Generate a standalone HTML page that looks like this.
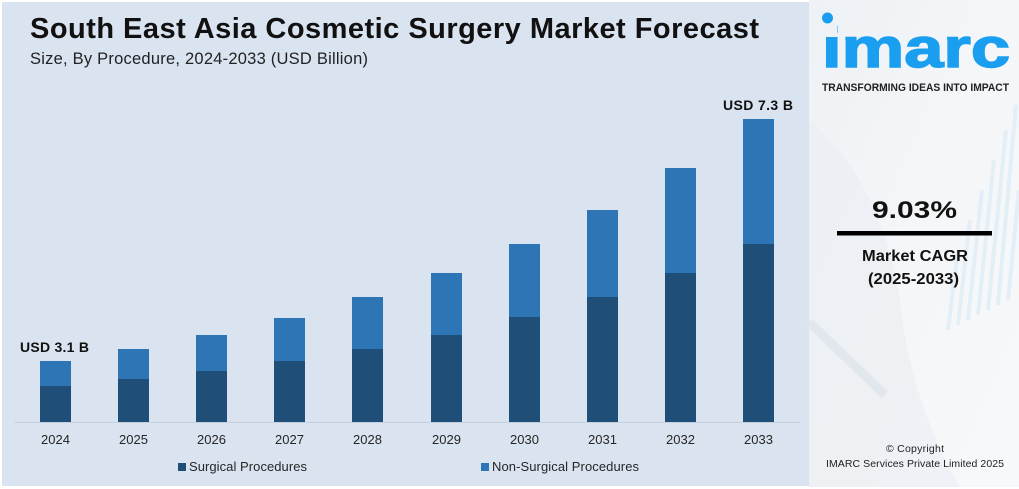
<!DOCTYPE html>
<html>
<head>
<meta charset="utf-8">
<style>
  html, body { margin: 0; padding: 0; background: #ffffff; }
  body { width: 1019px; height: 489px; overflow: hidden; }
  svg { display: block; font-family: "Liberation Sans", Arial, sans-serif; }
</style>
</head>
<body>
<svg width="1019" height="489" viewBox="0 0 1019 489" xmlns="http://www.w3.org/2000/svg">
  <defs>
    <linearGradient id="rp" x1="0" y1="0" x2="1" y2="1">
      <stop offset="0" stop-color="#eef1f5"/>
      <stop offset="0.5" stop-color="#f4f6f8"/>
      <stop offset="1" stop-color="#f7f8fa"/>
    </linearGradient>
  </defs>

  <!-- background -->
  <rect x="0" y="0" width="1019" height="489" fill="#ffffff"/>
  <rect x="2" y="2" width="807" height="484" fill="#dae3f0"/>

  <!-- right panel -->
  <rect x="809" y="0" width="210" height="487" fill="url(#rp)"/>
  <!-- faint background decorations -->
  <path d="M809 120 Q 880 180 900 300 Q 910 400 960 487 L 809 487 Z" fill="#e9edf1" opacity="0.6"/>
  <line x1="809" y1="322" x2="885" y2="395" stroke="#e2e7ed" stroke-width="9"/>
  <g stroke="#dcecf6" stroke-width="4" opacity="0.7">
    <line x1="948" y1="330" x2="958" y2="250"/>
    <line x1="958" y1="325" x2="970" y2="220"/>
    <line x1="968" y1="320" x2="982" y2="190"/>
    <line x1="978" y1="315" x2="994" y2="160"/>
    <line x1="988" y1="310" x2="1006" y2="130"/>
    <line x1="998" y1="305" x2="1016" y2="105"/>
    <line x1="1008" y1="300" x2="1019" y2="190"/>
  </g>

  <!-- title -->
  <text x="30" y="38" font-size="29" font-weight="bold" fill="#111111" textLength="729">South East Asia Cosmetic Surgery Market Forecast</text>
  <text x="30" y="64" font-size="16.5" fill="#222222" textLength="338">Size, By Procedure, 2024-2033 (USD Billion)</text>

  <!-- axis line -->
  <line x1="15" y1="422.5" x2="800" y2="422.5" stroke="#c6d0dd" stroke-width="1"/>

  <!-- bars: dark = surgical, light = non-surgical -->
  <g>
    <rect x="40" y="361" width="31" height="25" fill="#2e75b6"/>
    <rect x="40" y="386" width="31" height="36" fill="#1f4e79"/>

    <rect x="118" y="349" width="31" height="30" fill="#2e75b6"/>
    <rect x="118" y="379" width="31" height="43" fill="#1f4e79"/>

    <rect x="196" y="335" width="31" height="36" fill="#2e75b6"/>
    <rect x="196" y="371" width="31" height="51" fill="#1f4e79"/>

    <rect x="274" y="318" width="31" height="43" fill="#2e75b6"/>
    <rect x="274" y="361" width="31" height="61" fill="#1f4e79"/>

    <rect x="352" y="297" width="31" height="52" fill="#2e75b6"/>
    <rect x="352" y="349" width="31" height="73" fill="#1f4e79"/>

    <rect x="431" y="273" width="31" height="62" fill="#2e75b6"/>
    <rect x="431" y="335" width="31" height="87" fill="#1f4e79"/>

    <rect x="509" y="244" width="31" height="73" fill="#2e75b6"/>
    <rect x="509" y="317" width="31" height="105" fill="#1f4e79"/>

    <rect x="587" y="210" width="31" height="87" fill="#2e75b6"/>
    <rect x="587" y="297" width="31" height="125" fill="#1f4e79"/>

    <rect x="665" y="168" width="31" height="105" fill="#2e75b6"/>
    <rect x="665" y="273" width="31" height="149" fill="#1f4e79"/>

    <rect x="743" y="119" width="31" height="125" fill="#2e75b6"/>
    <rect x="743" y="244" width="31" height="178" fill="#1f4e79"/>
  </g>

  <!-- value labels -->
  <text x="20" y="352" font-size="14" font-weight="bold" fill="#111111" textLength="69">USD 3.1 B</text>
  <text x="723" y="110" font-size="14" font-weight="bold" fill="#111111" textLength="70">USD 7.3 B</text>

  <!-- year labels -->
  <g font-size="13" fill="#262626" text-anchor="middle">
    <text x="55.5" y="444">2024</text>
    <text x="133.5" y="444">2025</text>
    <text x="211.5" y="444">2026</text>
    <text x="289.5" y="444">2027</text>
    <text x="367.5" y="444">2028</text>
    <text x="446.5" y="444">2029</text>
    <text x="524.5" y="444">2030</text>
    <text x="602.5" y="444">2031</text>
    <text x="680.5" y="444">2032</text>
    <text x="758.5" y="444">2033</text>
  </g>

  <!-- legend -->
  <rect x="178" y="463" width="8" height="8" fill="#1f4e79"/>
  <text x="189" y="471" font-size="13" fill="#262626" textLength="118">Surgical Procedures</text>
  <rect x="481" y="463" width="8" height="8" fill="#2e75b6"/>
  <text x="492" y="471" font-size="13" fill="#262626" textLength="147">Non-Surgical Procedures</text>

  <!-- logo -->
  <text x="822" y="67" font-size="56" font-weight="bold" fill="#1a9ff0" stroke="#1a9ff0" stroke-width="1.5" textLength="188" lengthAdjust="spacingAndGlyphs">imarc</text>
  <rect x="820" y="22" width="17" height="15" fill="#eff2f5"/>
  <circle cx="827.5" cy="18" r="5.5" fill="#1a9ff0"/>
  <text x="822" y="91" font-size="11" font-weight="bold" fill="#222222" textLength="187" lengthAdjust="spacingAndGlyphs">TRANSFORMING IDEAS INTO IMPACT</text>

  <!-- CAGR -->
  <text x="872" y="218" font-size="24" font-weight="bold" fill="#111111" textLength="85" lengthAdjust="spacingAndGlyphs">9.03%</text>
  <rect x="837" y="231" width="155" height="4.5" fill="#000000"/>
  <text x="862" y="261" font-size="16" font-weight="bold" fill="#111111" textLength="106" lengthAdjust="spacingAndGlyphs">Market CAGR</text>
  <text x="868" y="284" font-size="16" font-weight="bold" fill="#111111" textLength="91" lengthAdjust="spacingAndGlyphs">(2025-2033)</text>

  <!-- copyright -->
  <text x="886" y="452" font-size="10.5" fill="#222222" textLength="58">© Copyright</text>
  <text x="826" y="467" font-size="10.5" fill="#222222" textLength="178">IMARC Services Private Limited 2025</text>
</svg>
</body>
</html>
